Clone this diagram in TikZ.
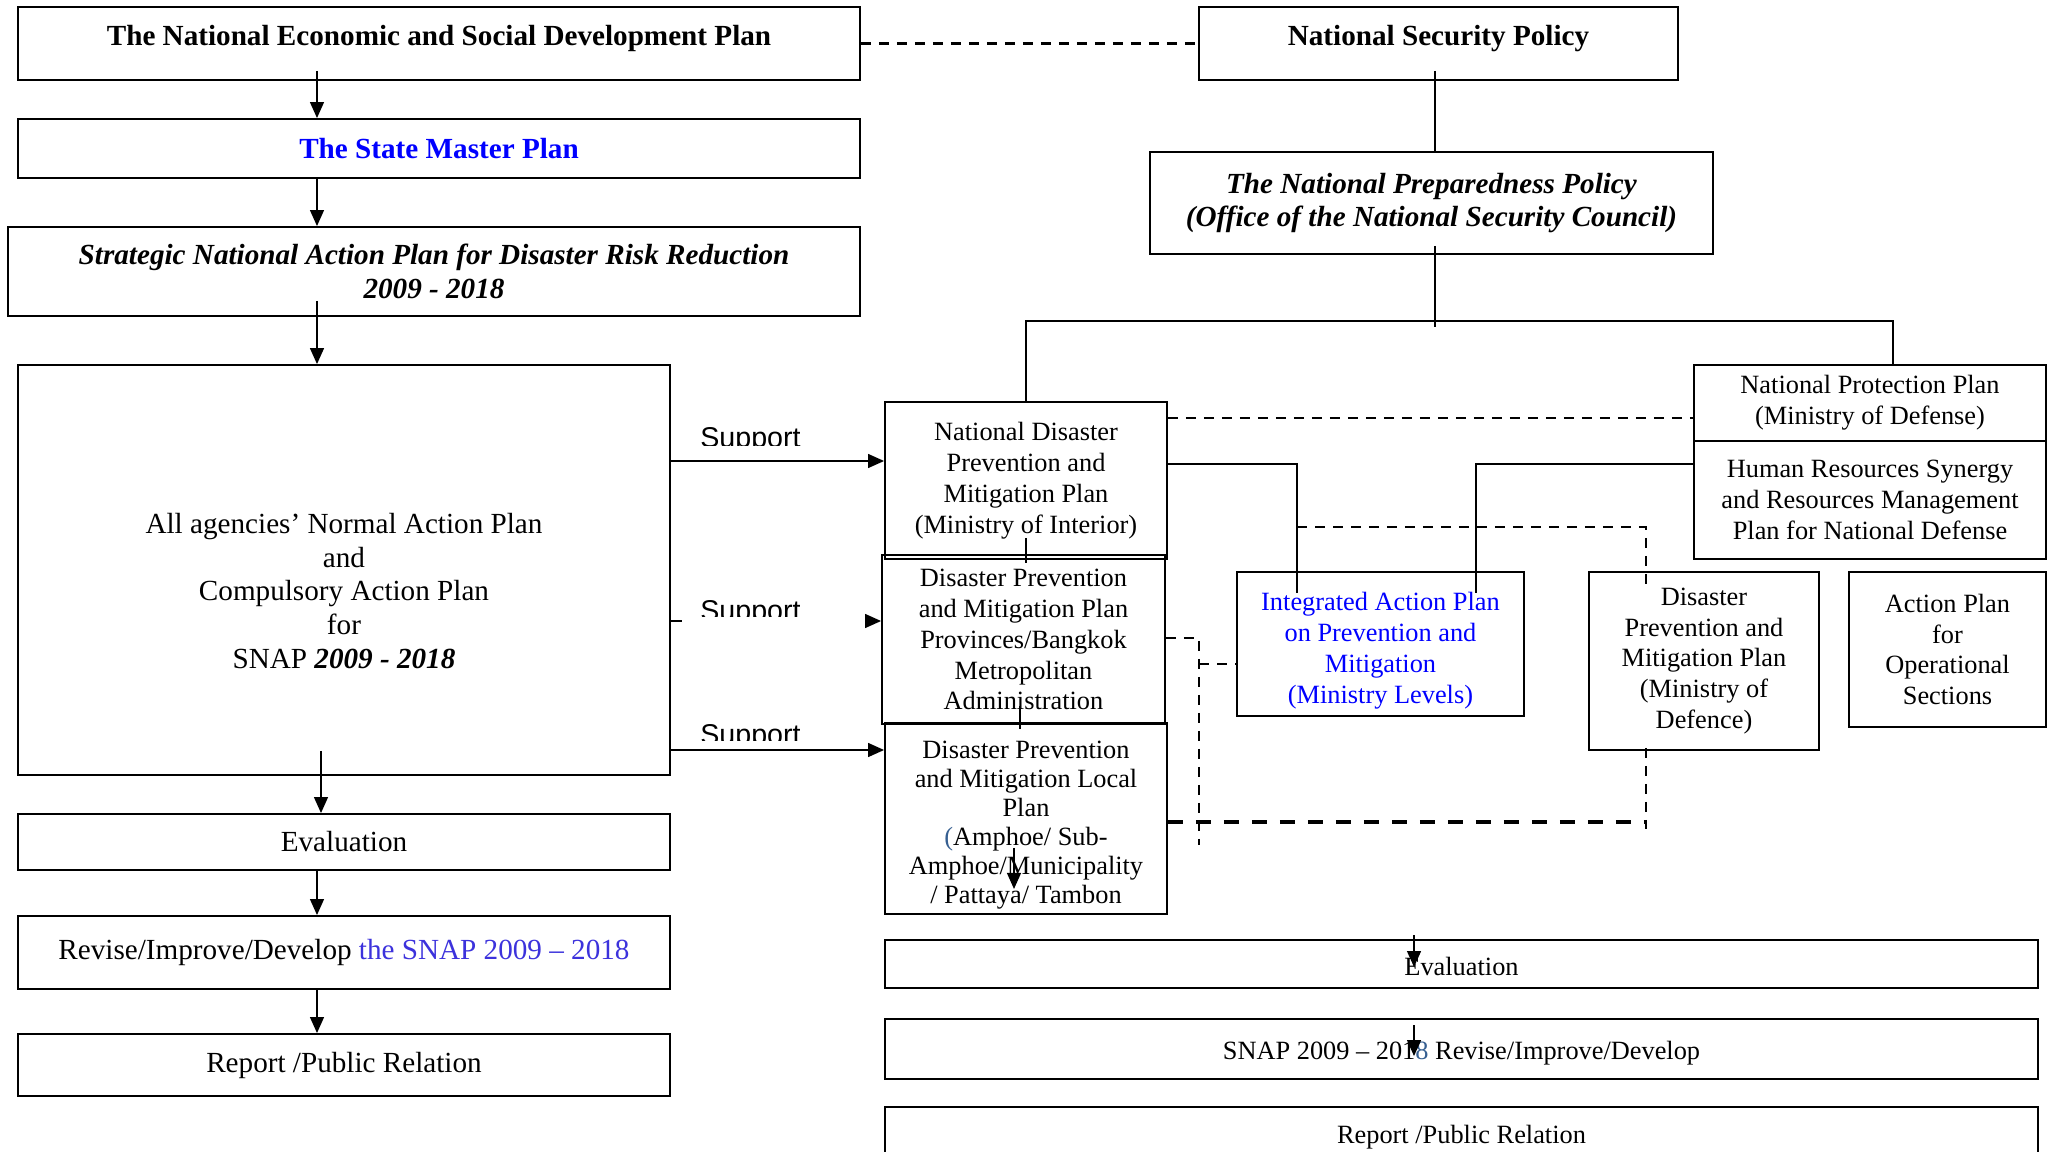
\documentclass[tikz,border=0pt]{standalone}
\usepackage{fontspec}
\setmainfont{Liberation Serif}
\newfontfamily\supportfont{Liberation Sans}
\usetikzlibrary{arrows.meta}
\definecolor{snapblue}{RGB}{60,50,220}
\definecolor{slate}{RGB}{54,95,145}

\begin{document}
\begin{tikzpicture}[x=0.02cm,y=-0.02cm,>={Triangle[length=0.32cm,width=0.28cm]},
  box/.style={draw,line width=1.1pt,inner sep=0pt,align=center},
  leftfont/.style={font=\fontsize{16.6}{19.3}\selectfont},
  boldfont/.style={font=\fontsize{16.6}{19.3}\selectfont\bfseries},
  bifont/.style={font=\fontsize{16.6}{19.3}\selectfont\bfseries\itshape},
  rightfont/.style={font=\fontsize{15}{17.6}\selectfont},
  link/.style={line width=0.75pt},
  arr/.style={->,line width=0.75pt},
  dashline/.style={line width=1.2pt,dash pattern=on 0.2cm off 0.16cm},
  thickdash/.style={line width=2.3pt,dash pattern=on 0.3cm off 0.26cm},
  support/.style={font=\supportfont\fontsize{16.3}{19}\selectfont,inner sep=0pt}]
  \useasboundingbox (0,0) rectangle (2053,1152);

  % left column
  \node[box,boldfont,minimum width=16.84cm,minimum height=1.46cm] (nesdp) at (439,43.5)
    {\raisebox{0.1cm}[\height][\depth]{The National Economic and Social Development Plan}};
  \node[box,boldfont,text=blue,minimum width=16.84cm,minimum height=1.18cm] (smp) at (439,148.5)
    {The State Master Plan};
  \node[box,bifont,minimum width=17.04cm,minimum height=1.78cm] (snap) at (434,271.5)
    {Strategic National Action Plan for Disaster Risk Reduction\\2009 - 2018};
  \node[box,minimum width=13.04cm,minimum height=8.2cm] (agencies) at (344,570) {};
  \node[leftfont,align=center,inner sep=0pt] (agtext) at (344,591)
    {All agencies’ Normal Action Plan\\and\\Compulsory Action Plan\\for\\SNAP \textbf{\textit{2009 - 2018}}};
  \node[box,leftfont,minimum width=13.04cm,minimum height=1.12cm] (evalL) at (344,842) {Evaluation};
  \node[box,leftfont,minimum width=13.04cm,minimum height=1.46cm] (reviseL) at (344,952.5)
    {Revise/Improve/Develop \textcolor{snapblue}{the SNAP 2009 – 2018}};
  \node[box,leftfont,minimum width=13.04cm,minimum height=1.24cm] (reportL) at (344,1065)
    {Report /Public Relation};

  % right column
  \node[box,boldfont,minimum width=9.58cm,minimum height=1.46cm] (nsp) at (1438.5,43.5)
    {\raisebox{0.1cm}[\height][\depth]{National Security Policy}};
  \node[box,bifont,minimum width=11.26cm,minimum height=2.04cm] (npp) at (1431.5,203)
    {The National Preparedness Policy\\(Office of the National Security Council)};
  \node[box,rightfont,minimum width=5.64cm,minimum height=3.14cm] (ndpmp) at (1026,480.5)
    {National Disaster\\Prevention and\\Mitigation Plan\\(Ministry of Interior)};
  \node[box,rightfont,minimum width=5.66cm,minimum height=3.38cm] (prov) at (1023.5,639.5)
    {Disaster Prevention\\and Mitigation Plan\\Provinces/Bangkok\\Metropolitan\\Administration};
  \node[box,minimum width=5.64cm,minimum height=3.82cm] (local) at (1026,818.5) {};
  \node[font=\fontsize{15}{16.5}\selectfont,align=center,inner sep=0pt] (localtext) at (1026,825)
    {Disaster Prevention\\and Mitigation Local\\Plan\\\textcolor{slate}{(}Amphoe/ Sub-\\Amphoe/Municipality\\/ Pattaya/ Tambon};
  \node[box,minimum width=5.74cm,minimum height=2.88cm] (integ) at (1380.5,644) {};
  \node[rightfont,text=blue,align=center,inner sep=0pt] (integtext) at (1380.5,650.5)
    {Integrated Action Plan\\on Prevention and\\Mitigation\\(Ministry Levels)};
  \node[box,rightfont,minimum width=7.04cm,minimum height=1.52cm] (nprot) at (1870,403)
    {National Protection Plan\\(Ministry of Defense)};
  \node[box,rightfont,minimum width=7.04cm,minimum height=2.36cm] (hrsyn) at (1870,500)
    {Human Resources Synergy\\and Resources Management\\Plan for National Defense};
  \node[box,rightfont,minimum width=4.6cm,minimum height=3.56cm] (mod) at (1704,661)
    {Disaster\\Prevention and\\Mitigation Plan\\(Ministry of\\Defence)};
  \node[box,rightfont,minimum width=3.94cm,minimum height=3.1cm] (opsec) at (1947.5,649.5)
    {Action Plan\\for\\Operational\\Sections};
  \node[box,rightfont,minimum width=23.06cm,minimum height=0.96cm] (evalR) at (1461.5,964)
    {\raisebox{-0.04cm}[\height][\depth]{Evaluation}};
  \node[box,rightfont,minimum width=23.06cm,minimum height=1.2cm] (snapR) at (1461.5,1049)
    {\raisebox{-0.08cm}[\height][\depth]{SNAP 2009 – 201\textcolor{slate}{8} Revise/Improve/Develop}};
  \node[box,rightfont,minimum width=23.06cm,minimum height=1.2cm] (reportR) at (1461.5,1137)
    {Report /Public Relation};

  % support labels, cut at the foot
  \begin{scope}
    \clip (690,400) rectangle (830,445);
    \node[support,anchor=base west] (sup1) at (700,447) {Support};
  \end{scope}
  \begin{scope}
    \clip (690,580) rectangle (830,616);
    \node[support,anchor=base west] (sup2) at (700,620) {Support};
  \end{scope}
  \begin{scope}
    \clip (690,700) rectangle (830,740);
    \node[support,anchor=base west] (sup3) at (700,744) {Support};
  \end{scope}

  % left arrows
  \coordinate (lx) at (317,0);
  \coordinate (lx2) at (321,0);
  \draw[arr] ([yshift=0.2cm]nesdp.south -| lx) -- (smp.north -| lx);
  \draw[arr] (smp.south -| lx) -- (snap.north -| lx);
  \draw[arr] ([yshift=0.32cm]snap.south -| lx) -- (agencies.north -| lx);
  \draw[arr] ([yshift=0.5cm]agencies.south -| lx2) -- (evalL.north -| lx2);
  \draw[arr] (evalL.south -| lx) -- (reviseL.north -| lx);
  \draw[arr] (reviseL.south -| lx) -- (reportL.north -| lx);

  % support arrows
  \coordinate (s1) at (0,461);
  \coordinate (s2) at (0,621);
  \coordinate (s3) at (0,750);
  \draw[arr] (agencies.east |- s1) -- (ndpmp.west |- s1);
  \draw[link] (agencies.east |- s2) -- ++(11,0);
  \draw[arr] ([xshift=-0.32cm]prov.west |- s2) -- (prov.west |- s2);
  \draw[arr] (agencies.east |- s3) -- (local.west |- s3);

  % policy tree
  \draw[dashline] (nesdp.east) -- (nsp.west);
  \coordinate (rx) at (1435,0);
  \coordinate (bus) at (1435,321);
  \coordinate (busr) at (1893,321);
  \draw[link] ([yshift=0.2cm]nsp.south -| rx) -- (npp.north -| rx);
  \draw[link] ([yshift=0.18cm]npp.south -| rx) -- ([yshift=-0.12cm]bus);
  \draw[link] (ndpmp.north) |- (busr) -- (nprot.north -| busr);

  % plan stack
  \draw[link] ([yshift=0.44cm]ndpmp.south) -- ([yshift=-0.06cm]ndpmp.south);
  \draw[link] ([xshift=-0.07cm,yshift=0.38cm]prov.south) -- ([xshift=-0.07cm,yshift=-0.08cm]prov.south);
  \draw[arr] ([xshift=-0.24cm,yshift=1.34cm]local.south) -- ([xshift=-0.24cm,yshift=0.52cm]local.south);

  % links to the integrated plan
  \coordinate (j1) at (1297,464);
  \coordinate (j2) at (1476,464);
  \draw[link] (ndpmp.east |- j1) -| ([yshift=-0.44cm]integ.north -| j1);
  \draw[link] (hrsyn.west |- j2) -| ([yshift=-0.44cm]integ.north -| j2);

  % dashed ties
  \coordinate (d1) at (0,418);
  \coordinate (d2) at (1297,527);
  \coordinate (d3) at (0,822);
  \coordinate (dx) at (1646,0);
  \coordinate (d4) at (1199,638);
  \coordinate (d4e) at (1199,845);
  \coordinate (d5) at (1199,664);
  \draw[dashline] (ndpmp.east |- d1) -- (nprot.west |- d1);
  \draw[dashline] (d2) -| ([yshift=-0.36cm]mod.north -| dx);
  \draw[dashline] ([yshift=0.06cm]mod.south -| dx) -- ([yshift=-1.56cm]mod.south -| dx);
  \draw[thickdash] (local.east |- d3) -- (d3 -| dx);
  \draw[dashline] (prov.east |- d4) -| (d4e);
  \draw[dashline] (d5) -- (integ.west |- d5);

  % right lower arrows
  \draw[arr] ([xshift=-0.95cm,yshift=0.08cm]evalR.north) -- ([xshift=-0.95cm,yshift=-0.56cm]evalR.north);
  \draw[arr] ([xshift=-0.95cm,yshift=-0.14cm]snapR.north) -- ([xshift=-0.95cm,yshift=-0.76cm]snapR.north);
\end{tikzpicture}
\end{document}
